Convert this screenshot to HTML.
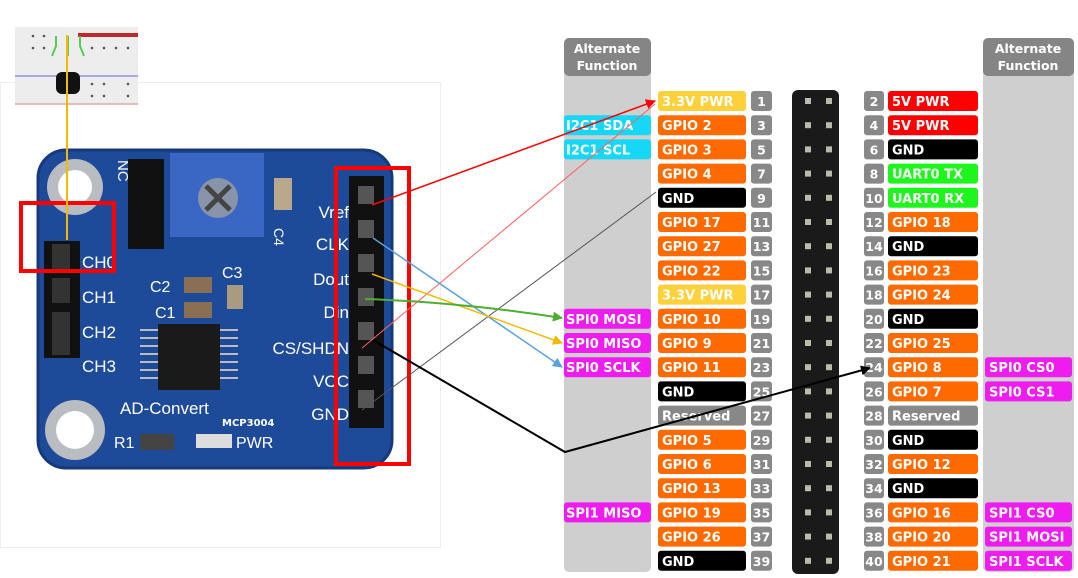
<!DOCTYPE html>
<html><head><meta charset="utf-8"><style>
html,body{margin:0;padding:0;background:#fff;width:1078px;height:578px;overflow:hidden}
svg{display:block}
text{font-family:"DejaVu Sans","Liberation Sans",sans-serif;font-weight:bold;font-size:13px;fill:#fff}
.n{font-size:12.5px;text-anchor:middle}
text.b{font-family:"Liberation Sans",sans-serif;font-weight:normal;font-size:17px}
text.h{font-size:12.5px;text-anchor:middle}
</style></head><body>
<svg width="1078" height="578" viewBox="0 0 1078 578" xmlns="http://www.w3.org/2000/svg">
<defs>
<marker id="aR" markerWidth="10" markerHeight="10" refX="9" refY="5" orient="auto" markerUnits="userSpaceOnUse"><path d="M0,0 L10,5 L0,10 z" fill="#f00"/></marker>
<marker id="aB" markerWidth="10" markerHeight="10" refX="9" refY="5" orient="auto" markerUnits="userSpaceOnUse"><path d="M0,0 L10,5 L0,10 z" fill="#5aa0dc"/></marker>
<marker id="aY" markerWidth="10" markerHeight="10" refX="9" refY="5" orient="auto" markerUnits="userSpaceOnUse"><path d="M0,0 L10,5 L0,10 z" fill="#f5b800"/></marker>
<marker id="aG" markerWidth="10" markerHeight="10" refX="9" refY="5" orient="auto" markerUnits="userSpaceOnUse"><path d="M0,0 L10,5 L0,10 z" fill="#4caf30"/></marker>
<marker id="aK" markerWidth="10" markerHeight="10" refX="9" refY="5" orient="auto" markerUnits="userSpaceOnUse"><path d="M0,0 L10,5 L0,10 z" fill="#000"/></marker>
</defs>

<rect x="0.5" y="82.5" width="440" height="465" fill="#fff" stroke="#eee"/>
<rect x="15" y="27" width="123" height="78" fill="#ededed"/>
<rect x="78" y="33" width="60" height="4" fill="#c0292a"/>
<line x1="15" y1="76" x2="138" y2="76" stroke="#6666cc" stroke-width="1"/>
<line x1="15" y1="104" x2="138" y2="104" stroke="#d88" stroke-width="1"/>
<g fill="#555"><circle cx="33" cy="36" r="1.3"/><circle cx="44" cy="36" r="1.3"/><circle cx="33" cy="48" r="1.3"/><circle cx="44" cy="48" r="1.3"/><circle cx="92" cy="48" r="1.3"/><circle cx="104" cy="48" r="1.3"/><circle cx="116" cy="48" r="1.3"/><circle cx="128" cy="48" r="1.3"/><circle cx="92" cy="84" r="1.3"/><circle cx="104" cy="84" r="1.3"/><circle cx="128" cy="84" r="1.3"/><circle cx="92" cy="96" r="1.3"/><circle cx="104" cy="96" r="1.3"/><circle cx="128" cy="96" r="1.3"/></g>
<path d="M56,36 v10 l-4,10 M68,36 v20 M80,36 v10 l4,10" stroke="#5c5" stroke-width="2" fill="none"/>
<rect x="56" y="72" width="24" height="22" rx="6" fill="#111"/>

<rect x="38" y="150" width="354" height="318" rx="28" fill="#1e4a9a"/>
<rect x="38" y="150" width="354" height="318" rx="28" fill="none" stroke="#16397a" stroke-width="3"/>
<circle cx="75" cy="187" r="28" fill="#b9bcc0"/><circle cx="75" cy="187" r="17" fill="#fff"/>
<circle cx="75" cy="430" r="30" fill="#b9bcc0"/><circle cx="75" cy="430" r="19" fill="#fff"/>
<rect x="44" y="241" width="36" height="117" fill="#111"/>
<g fill="#333"><rect x="52" y="244" width="18" height="25"/><rect x="52" y="278" width="18" height="25"/><rect x="52" y="312" width="18" height="25"/><rect x="52" y="335" width="18" height="20"/></g>
<text class="b" x="82" y="268">CH0</text>
<text class="b" x="82" y="303">CH1</text>
<text class="b" x="82" y="338">CH2</text>
<text class="b" x="82" y="372">CH3</text>
<rect x="128" y="159" width="36" height="90" fill="#111"/>
<text class="b" x="118" y="160" transform="rotate(90 118 160)" style="font-size:15px">NC</text>
<rect x="170" y="153" width="94" height="84" fill="#3a67c4"/>
<circle cx="218" cy="198" r="20" fill="#8a94a8"/>
<path d="M206,186 L230,210 M230,186 L206,210" stroke="#444" stroke-width="5"/>
<rect x="274" y="178" width="18" height="32" fill="#b8a98c"/>
<text class="b" x="274" y="228" transform="rotate(90 274 228)" style="font-size:14px">C4</text>
<text class="b" x="150" y="292" style="font-size:16px">C2</text>
<text class="b" x="155" y="318" style="font-size:16px">C1</text>
<text class="b" x="222" y="278" style="font-size:16px">C3</text>
<rect x="184" y="277" width="28" height="16" fill="#8a6f55"/><rect x="184" y="302" width="28" height="16" fill="#8a6f55"/>
<rect x="227" y="285" width="16" height="24" fill="#a99a80"/>
<rect x="158" y="324" width="62" height="66" fill="#1a1a1a"/>
<g stroke="#bbb" stroke-width="2"><path d="M140,330h18M140,338h18M140,346h18M140,354h18M140,362h18M140,370h18M140,378h18M220,330h18M220,338h18M220,346h18M220,354h18M220,362h18M220,370h18M220,378h18"/></g>
<text class="b" x="120" y="414">AD-Convert</text>
<text x="222" y="426" style="font-size:10px">MCP3004</text>
<text class="b" x="114" y="448" style="font-size:16px">R1</text>
<rect x="140" y="434" width="34" height="16" fill="#444"/>
<rect x="196" y="434" width="36" height="14" fill="#ddd"/>
<text class="b" x="236" y="448" style="font-size:16px">PWR</text>
<text class="b" x="349" y="218" text-anchor="end">Vref</text>
<text class="b" x="349" y="250" text-anchor="end">CLK</text>
<text class="b" x="349" y="285" text-anchor="end">Dout</text>
<text class="b" x="349" y="318" text-anchor="end">Din</text>
<text class="b" x="349" y="354" text-anchor="end">CS/SHDN</text>
<text class="b" x="349" y="387" text-anchor="end">VCC</text>
<text class="b" x="349" y="420" text-anchor="end">GND</text>
<rect x="349" y="176" width="35" height="252" fill="#111"/>
<g fill="#555"><rect x="358" y="186" width="16" height="18"/><rect x="358" y="220" width="16" height="18"/><rect x="358" y="254" width="16" height="18"/><rect x="358" y="288" width="16" height="18"/><rect x="358" y="322" width="16" height="18"/><rect x="358" y="356" width="16" height="18"/><rect x="358" y="390" width="16" height="18"/></g>

<rect x="21" y="203" width="93" height="68" fill="none" stroke="#f00" stroke-width="4"/>
<rect x="336" y="168" width="73" height="296" fill="none" stroke="#f00" stroke-width="4"/>

<rect x="564" y="38" width="87" height="534" rx="5" fill="#cfcfcf"/>
<rect x="564" y="38" width="87" height="38" rx="5" fill="#858585"/>
<text class="h" x="607" y="53">Alternate</text>
<text class="h" x="607" y="70">Function</text>
<rect x="983" y="38" width="91" height="534" rx="5" fill="#cfcfcf"/>
<rect x="983" y="38" width="91" height="38" rx="5" fill="#858585"/>
<text class="h" x="1028" y="53">Alternate</text>
<text class="h" x="1028" y="70">Function</text>
<rect x="792" y="90" width="47" height="484" rx="6" fill="#1a1a1a"/>

<g>
<g transform="translate(0,91)"><rect x="658" width="88" height="20" rx="3" fill="#fed03a"/><text x="662" y="15">3.3V PWR</text><rect x="751" width="21" height="20" rx="3" fill="#888"/><text class="n" x="761.5" y="15">1</text><rect x="805" y="7" width="6" height="6" fill="#bba"/><rect x="826" y="7" width="6" height="6" fill="#bba"/><rect x="864" width="20" height="20" rx="3" fill="#888"/><text class="n" x="874" y="15">2</text><rect x="888" width="90" height="20" rx="3" fill="#f00"/><text x="892" y="15">5V PWR</text></g>
<g transform="translate(0,115.2)"><rect x="564" width="87" height="20" rx="3" fill="#17d7f7"/><text x="566" y="15">I2C1 SDA</text><rect x="658" width="88" height="20" rx="3" fill="#ff6a00"/><text x="662" y="15">GPIO 2</text><rect x="751" width="21" height="20" rx="3" fill="#888"/><text class="n" x="761.5" y="15">3</text><rect x="805" y="7" width="6" height="6" fill="#bba"/><rect x="826" y="7" width="6" height="6" fill="#bba"/><rect x="864" width="20" height="20" rx="3" fill="#888"/><text class="n" x="874" y="15">4</text><rect x="888" width="90" height="20" rx="3" fill="#f00"/><text x="892" y="15">5V PWR</text></g>
<g transform="translate(0,139.4)"><rect x="564" width="87" height="20" rx="3" fill="#17d7f7"/><text x="566" y="15">I2C1 SCL</text><rect x="658" width="88" height="20" rx="3" fill="#ff6a00"/><text x="662" y="15">GPIO 3</text><rect x="751" width="21" height="20" rx="3" fill="#888"/><text class="n" x="761.5" y="15">5</text><rect x="805" y="7" width="6" height="6" fill="#bba"/><rect x="826" y="7" width="6" height="6" fill="#bba"/><rect x="864" width="20" height="20" rx="3" fill="#888"/><text class="n" x="874" y="15">6</text><rect x="888" width="90" height="20" rx="3" fill="#000"/><text x="892" y="15">GND</text></g>
<g transform="translate(0,163.6)"><rect x="658" width="88" height="20" rx="3" fill="#ff6a00"/><text x="662" y="15">GPIO 4</text><rect x="751" width="21" height="20" rx="3" fill="#888"/><text class="n" x="761.5" y="15">7</text><rect x="805" y="7" width="6" height="6" fill="#bba"/><rect x="826" y="7" width="6" height="6" fill="#bba"/><rect x="864" width="20" height="20" rx="3" fill="#888"/><text class="n" x="874" y="15">8</text><rect x="888" width="90" height="20" rx="3" fill="#1df51d"/><text x="892" y="15">UART0 TX</text></g>
<g transform="translate(0,187.8)"><rect x="658" width="88" height="20" rx="3" fill="#000"/><text x="662" y="15">GND</text><rect x="751" width="21" height="20" rx="3" fill="#888"/><text class="n" x="761.5" y="15">9</text><rect x="805" y="7" width="6" height="6" fill="#bba"/><rect x="826" y="7" width="6" height="6" fill="#bba"/><rect x="864" width="20" height="20" rx="3" fill="#888"/><text class="n" x="874" y="15">10</text><rect x="888" width="90" height="20" rx="3" fill="#1df51d"/><text x="892" y="15">UART0 RX</text></g>
<g transform="translate(0,212)"><rect x="658" width="88" height="20" rx="3" fill="#ff6a00"/><text x="662" y="15">GPIO 17</text><rect x="751" width="21" height="20" rx="3" fill="#888"/><text class="n" x="761.5" y="15">11</text><rect x="805" y="7" width="6" height="6" fill="#bba"/><rect x="826" y="7" width="6" height="6" fill="#bba"/><rect x="864" width="20" height="20" rx="3" fill="#888"/><text class="n" x="874" y="15">12</text><rect x="888" width="90" height="20" rx="3" fill="#ff6a00"/><text x="892" y="15">GPIO 18</text></g>
<g transform="translate(0,236.2)"><rect x="658" width="88" height="20" rx="3" fill="#ff6a00"/><text x="662" y="15">GPIO 27</text><rect x="751" width="21" height="20" rx="3" fill="#888"/><text class="n" x="761.5" y="15">13</text><rect x="805" y="7" width="6" height="6" fill="#bba"/><rect x="826" y="7" width="6" height="6" fill="#bba"/><rect x="864" width="20" height="20" rx="3" fill="#888"/><text class="n" x="874" y="15">14</text><rect x="888" width="90" height="20" rx="3" fill="#000"/><text x="892" y="15">GND</text></g>
<g transform="translate(0,260.4)"><rect x="658" width="88" height="20" rx="3" fill="#ff6a00"/><text x="662" y="15">GPIO 22</text><rect x="751" width="21" height="20" rx="3" fill="#888"/><text class="n" x="761.5" y="15">15</text><rect x="805" y="7" width="6" height="6" fill="#bba"/><rect x="826" y="7" width="6" height="6" fill="#bba"/><rect x="864" width="20" height="20" rx="3" fill="#888"/><text class="n" x="874" y="15">16</text><rect x="888" width="90" height="20" rx="3" fill="#ff6a00"/><text x="892" y="15">GPIO 23</text></g>
<g transform="translate(0,284.6)"><rect x="658" width="88" height="20" rx="3" fill="#fed03a"/><text x="662" y="15">3.3V PWR</text><rect x="751" width="21" height="20" rx="3" fill="#888"/><text class="n" x="761.5" y="15">17</text><rect x="805" y="7" width="6" height="6" fill="#bba"/><rect x="826" y="7" width="6" height="6" fill="#bba"/><rect x="864" width="20" height="20" rx="3" fill="#888"/><text class="n" x="874" y="15">18</text><rect x="888" width="90" height="20" rx="3" fill="#ff6a00"/><text x="892" y="15">GPIO 24</text></g>
<g transform="translate(0,308.8)"><rect x="564" width="87" height="20" rx="3" fill="#ef1cf0"/><text x="566" y="15">SPI0 MOSI</text><rect x="658" width="88" height="20" rx="3" fill="#ff6a00"/><text x="662" y="15">GPIO 10</text><rect x="751" width="21" height="20" rx="3" fill="#888"/><text class="n" x="761.5" y="15">19</text><rect x="805" y="7" width="6" height="6" fill="#bba"/><rect x="826" y="7" width="6" height="6" fill="#bba"/><rect x="864" width="20" height="20" rx="3" fill="#888"/><text class="n" x="874" y="15">20</text><rect x="888" width="90" height="20" rx="3" fill="#000"/><text x="892" y="15">GND</text></g>
<g transform="translate(0,333)"><rect x="564" width="87" height="20" rx="3" fill="#ef1cf0"/><text x="566" y="15">SPI0 MISO</text><rect x="658" width="88" height="20" rx="3" fill="#ff6a00"/><text x="662" y="15">GPIO 9</text><rect x="751" width="21" height="20" rx="3" fill="#888"/><text class="n" x="761.5" y="15">21</text><rect x="805" y="7" width="6" height="6" fill="#bba"/><rect x="826" y="7" width="6" height="6" fill="#bba"/><rect x="864" width="20" height="20" rx="3" fill="#888"/><text class="n" x="874" y="15">22</text><rect x="888" width="90" height="20" rx="3" fill="#ff6a00"/><text x="892" y="15">GPIO 25</text></g>
<g transform="translate(0,357.2)"><rect x="564" width="87" height="20" rx="3" fill="#ef1cf0"/><text x="566" y="15">SPI0 SCLK</text><rect x="658" width="88" height="20" rx="3" fill="#ff6a00"/><text x="662" y="15">GPIO 11</text><rect x="751" width="21" height="20" rx="3" fill="#888"/><text class="n" x="761.5" y="15">23</text><rect x="805" y="7" width="6" height="6" fill="#bba"/><rect x="826" y="7" width="6" height="6" fill="#bba"/><rect x="864" width="20" height="20" rx="3" fill="#888"/><text class="n" x="874" y="15">24</text><rect x="888" width="90" height="20" rx="3" fill="#ff6a00"/><text x="892" y="15">GPIO 8</text><rect x="985" width="87" height="20" rx="3" fill="#ef1cf0"/><text x="989" y="15">SPI0 CS0</text></g>
<g transform="translate(0,381.4)"><rect x="658" width="88" height="20" rx="3" fill="#000"/><text x="662" y="15">GND</text><rect x="751" width="21" height="20" rx="3" fill="#888"/><text class="n" x="761.5" y="15">25</text><rect x="805" y="7" width="6" height="6" fill="#bba"/><rect x="826" y="7" width="6" height="6" fill="#bba"/><rect x="864" width="20" height="20" rx="3" fill="#888"/><text class="n" x="874" y="15">26</text><rect x="888" width="90" height="20" rx="3" fill="#ff6a00"/><text x="892" y="15">GPIO 7</text><rect x="985" width="87" height="20" rx="3" fill="#ef1cf0"/><text x="989" y="15">SPI0 CS1</text></g>
<g transform="translate(0,405.6)"><rect x="658" width="88" height="20" rx="3" fill="#888"/><text x="662" y="15">Reserved</text><rect x="751" width="21" height="20" rx="3" fill="#888"/><text class="n" x="761.5" y="15">27</text><rect x="805" y="7" width="6" height="6" fill="#bba"/><rect x="826" y="7" width="6" height="6" fill="#bba"/><rect x="864" width="20" height="20" rx="3" fill="#888"/><text class="n" x="874" y="15">28</text><rect x="888" width="90" height="20" rx="3" fill="#888"/><text x="892" y="15">Reserved</text></g>
<g transform="translate(0,429.8)"><rect x="658" width="88" height="20" rx="3" fill="#ff6a00"/><text x="662" y="15">GPIO 5</text><rect x="751" width="21" height="20" rx="3" fill="#888"/><text class="n" x="761.5" y="15">29</text><rect x="805" y="7" width="6" height="6" fill="#bba"/><rect x="826" y="7" width="6" height="6" fill="#bba"/><rect x="864" width="20" height="20" rx="3" fill="#888"/><text class="n" x="874" y="15">30</text><rect x="888" width="90" height="20" rx="3" fill="#000"/><text x="892" y="15">GND</text></g>
<g transform="translate(0,454)"><rect x="658" width="88" height="20" rx="3" fill="#ff6a00"/><text x="662" y="15">GPIO 6</text><rect x="751" width="21" height="20" rx="3" fill="#888"/><text class="n" x="761.5" y="15">31</text><rect x="805" y="7" width="6" height="6" fill="#bba"/><rect x="826" y="7" width="6" height="6" fill="#bba"/><rect x="864" width="20" height="20" rx="3" fill="#888"/><text class="n" x="874" y="15">32</text><rect x="888" width="90" height="20" rx="3" fill="#ff6a00"/><text x="892" y="15">GPIO 12</text></g>
<g transform="translate(0,478.2)"><rect x="658" width="88" height="20" rx="3" fill="#ff6a00"/><text x="662" y="15">GPIO 13</text><rect x="751" width="21" height="20" rx="3" fill="#888"/><text class="n" x="761.5" y="15">33</text><rect x="805" y="7" width="6" height="6" fill="#bba"/><rect x="826" y="7" width="6" height="6" fill="#bba"/><rect x="864" width="20" height="20" rx="3" fill="#888"/><text class="n" x="874" y="15">34</text><rect x="888" width="90" height="20" rx="3" fill="#000"/><text x="892" y="15">GND</text></g>
<g transform="translate(0,502.4)"><rect x="564" width="87" height="20" rx="3" fill="#ef1cf0"/><text x="566" y="15">SPI1 MISO</text><rect x="658" width="88" height="20" rx="3" fill="#ff6a00"/><text x="662" y="15">GPIO 19</text><rect x="751" width="21" height="20" rx="3" fill="#888"/><text class="n" x="761.5" y="15">35</text><rect x="805" y="7" width="6" height="6" fill="#bba"/><rect x="826" y="7" width="6" height="6" fill="#bba"/><rect x="864" width="20" height="20" rx="3" fill="#888"/><text class="n" x="874" y="15">36</text><rect x="888" width="90" height="20" rx="3" fill="#ff6a00"/><text x="892" y="15">GPIO 16</text><rect x="985" width="87" height="20" rx="3" fill="#ef1cf0"/><text x="989" y="15">SPI1 CS0</text></g>
<g transform="translate(0,526.6)"><rect x="658" width="88" height="20" rx="3" fill="#ff6a00"/><text x="662" y="15">GPIO 26</text><rect x="751" width="21" height="20" rx="3" fill="#888"/><text class="n" x="761.5" y="15">37</text><rect x="805" y="7" width="6" height="6" fill="#bba"/><rect x="826" y="7" width="6" height="6" fill="#bba"/><rect x="864" width="20" height="20" rx="3" fill="#888"/><text class="n" x="874" y="15">38</text><rect x="888" width="90" height="20" rx="3" fill="#ff6a00"/><text x="892" y="15">GPIO 20</text><rect x="985" width="87" height="20" rx="3" fill="#ef1cf0"/><text x="989" y="15">SPI1 MOSI</text></g>
<g transform="translate(0,550.8)"><rect x="658" width="88" height="20" rx="3" fill="#000"/><text x="662" y="15">GND</text><rect x="751" width="21" height="20" rx="3" fill="#888"/><text class="n" x="761.5" y="15">39</text><rect x="805" y="7" width="6" height="6" fill="#bba"/><rect x="826" y="7" width="6" height="6" fill="#bba"/><rect x="864" width="20" height="20" rx="3" fill="#888"/><text class="n" x="874" y="15">40</text><rect x="888" width="90" height="20" rx="3" fill="#ff6a00"/><text x="892" y="15">GPIO 21</text><rect x="985" width="87" height="20" rx="3" fill="#ef1cf0"/><text x="989" y="15">SPI1 SCLK</text></g>
</g>

<line x1="67" y1="35" x2="67" y2="240" stroke="#f5b800" stroke-width="2"/>
<line x1="372" y1="205" x2="655" y2="101" stroke="#f00" stroke-width="1.5" marker-end="url(#aR)"/>
<line x1="362" y1="348" x2="655" y2="104" stroke="#ff6060" stroke-width="1"/>
<line x1="362" y1="410" x2="656" y2="192" stroke="#555" stroke-width="1"/>
<line x1="373" y1="238" x2="562" y2="367" stroke="#5aa0dc" stroke-width="1.5" marker-end="url(#aB)"/>
<line x1="372" y1="274" x2="562" y2="343" stroke="#f5b800" stroke-width="1.5" marker-end="url(#aY)"/>
<path d="M365,299 Q460,302 562,318" stroke="#4caf30" stroke-width="2" fill="none" marker-end="url(#aG)"/>
<polyline points="373,340 565,452 870,368" stroke="#000" stroke-width="2" fill="none" marker-end="url(#aK)"/>
</svg>
</body></html>
